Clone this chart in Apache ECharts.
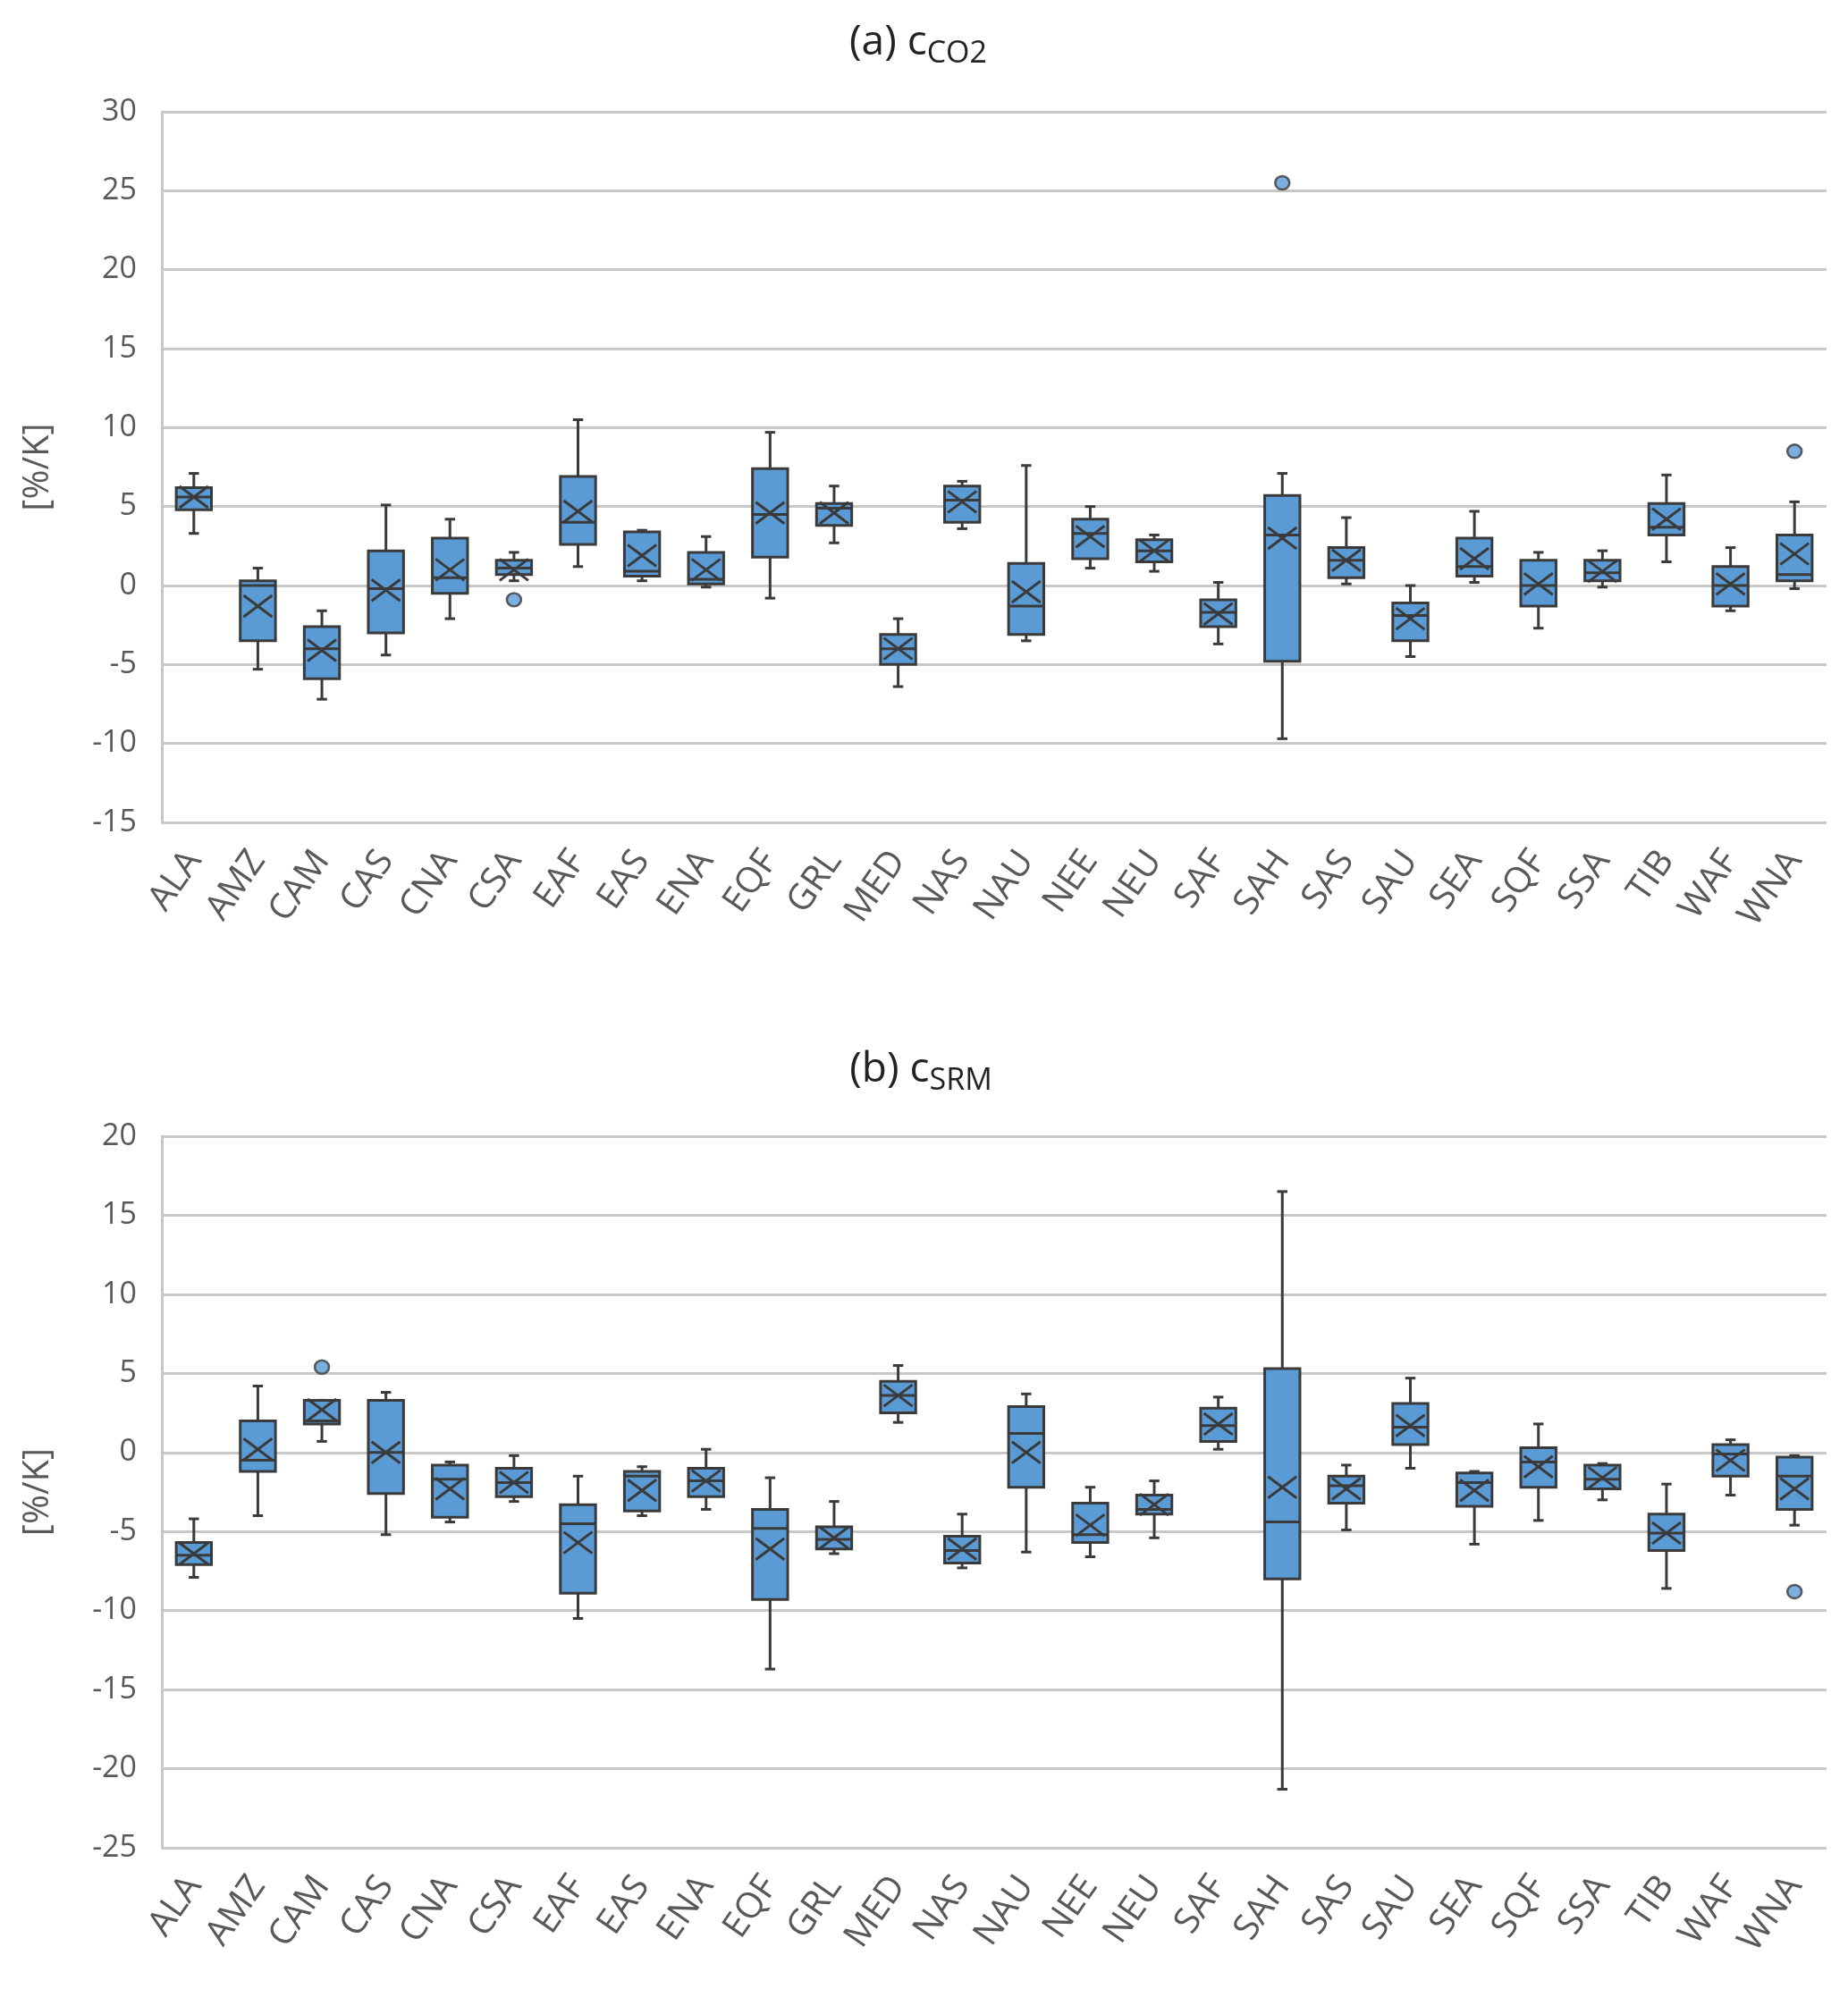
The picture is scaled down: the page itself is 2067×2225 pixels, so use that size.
<!DOCTYPE html>
<html>
<head>
<meta charset="utf-8">
<script src="https://cdn.jsdelivr.net/npm/echarts@6/dist/echarts.min.js"></script>
<style>
html,body{margin:0;padding:0;background:#fff;}
#c{width:2067px;height:2225px;}
</style>
</head>
<body>
<div id="c"></div>
<script>
const categories = ['ALA','AMZ','CAM','CAS','CNA','CSA','EAF','EAS','ENA','EQF','GRL','MED','NAS','NAU','NEE','NEU','SAF','SAH','SAS','SAU','SEA','SQF','SSA','TIB','WAF','WNA'];

// panel (a) cCO2 : [whiskerMin, Q1, median, Q3, whiskerMax, mean]
const co2Box = [
  [3.3, 4.8, 5.6, 6.2, 7.1, 5.6],
  [-5.3, -3.5, 0.0, 0.3, 1.1, -1.3],
  [-7.2, -5.9, -4.0, -2.6, -1.6, -4.1],
  [-4.4, -3.0, -0.2, 2.2, 5.1, -0.3],
  [-2.1, -0.5, 0.5, 3.0, 4.2, 1.0],
  [0.3, 0.7, 1.1, 1.6, 2.1, 1.0],
  [1.2, 2.6, 4.0, 6.9, 10.5, 4.7],
  [0.3, 0.6, 0.9, 3.4, 3.5, 1.9],
  [-0.1, 0.1, 0.4, 2.1, 3.1, 1.0],
  [-0.8, 1.8, 4.5, 7.4, 9.7, 4.6],
  [2.7, 3.8, 4.9, 5.2, 6.3, 4.6],
  [-6.4, -5.0, -4.0, -3.1, -2.1, -4.0],
  [3.6, 4.0, 5.4, 6.3, 6.6, 5.3],
  [-3.5, -3.1, -1.3, 1.4, 7.6, -0.4],
  [1.1, 1.7, 3.3, 4.2, 5.0, 3.1],
  [0.9, 1.5, 2.2, 2.9, 3.2, 2.2],
  [-3.7, -2.6, -1.7, -0.9, 0.2, -1.8],
  [-9.7, -4.8, 3.2, 5.7, 7.1, 3.0],
  [0.1, 0.5, 1.6, 2.4, 4.3, 1.6],
  [-4.5, -3.5, -1.9, -1.1, 0.0, -2.1],
  [0.2, 0.6, 1.2, 3.0, 4.7, 1.7],
  [-2.7, -1.3, 0.0, 1.6, 2.1, 0.1],
  [-0.1, 0.3, 0.8, 1.6, 2.2, 0.9],
  [1.5, 3.2, 3.7, 5.2, 7.0, 4.2],
  [-1.6, -1.3, 0.0, 1.2, 2.4, 0.1],
  [-0.2, 0.3, 0.7, 3.2, 5.3, 2.0]
];
const co2Outliers = [['CSA', -0.9], ['SAH', 25.5], ['WNA', 8.5]];

// panel (b) cSRM
const srmBox = [
  [-7.9, -7.1, -6.5, -5.7, -4.2, -6.4],
  [-4.0, -1.2, -0.5, 2.0, 4.2, 0.2],
  [0.7, 1.8, 2.0, 3.3, 3.3, 2.7],
  [-5.2, -2.6, 0.0, 3.3, 3.8, 0.0],
  [-4.4, -4.1, -1.7, -0.8, -0.6, -2.3],
  [-3.1, -2.8, -1.9, -1.0, -0.2, -1.9],
  [-10.5, -8.9, -4.5, -3.3, -1.5, -5.7],
  [-4.0, -3.7, -1.5, -1.2, -0.9, -2.4],
  [-3.6, -2.8, -1.8, -1.0, 0.2, -1.8],
  [-13.7, -9.3, -4.8, -3.6, -1.6, -6.1],
  [-6.4, -6.1, -5.5, -4.7, -3.1, -5.4],
  [1.9, 2.5, 3.6, 4.5, 5.5, 3.6],
  [-7.3, -7.0, -6.2, -5.3, -3.9, -6.1],
  [-6.3, -2.2, 1.2, 2.9, 3.7, 0.0],
  [-6.6, -5.7, -5.2, -3.2, -2.2, -4.6],
  [-5.4, -3.9, -3.6, -2.7, -1.8, -3.3],
  [0.2, 0.7, 1.7, 2.8, 3.5, 1.8],
  [-21.3, -8.0, -4.4, 5.3, 16.5, -2.2],
  [-4.9, -3.2, -2.1, -1.5, -0.8, -2.3],
  [-1.0, 0.5, 1.6, 3.1, 4.7, 1.7],
  [-5.8, -3.4, -1.9, -1.3, -1.2, -2.4],
  [-4.3, -2.2, -0.6, 0.3, 1.8, -0.9],
  [-3.0, -2.3, -1.7, -0.8, -0.7, -1.6],
  [-8.6, -6.2, -5.1, -3.9, -2.0, -5.1],
  [-2.7, -1.5, -0.1, 0.5, 0.8, -0.5],
  [-4.6, -3.6, -1.5, -0.3, -0.2, -2.3]
];
const srmOutliers = [['CAM', 5.4], ['WNA', -8.8]];

const yTicksA = {min: -15, max: 30, interval: 5};
const yTicksB = {min: -25, max: 20, interval: 5};

const FILL = '#5b9bd5';
const EDGE = '#3a3a3a';
const GRIDC = '#c8c8c8';
const TXT = '#595959';
const FONT = 'Open Sans';
const LW = 3;

function boxRender(params, api) {
  const x = api.value(0);
  const pMin = api.coord([x, api.value(1)]);
  const pQ1 = api.coord([x, api.value(2)]);
  const pMed = api.coord([x, api.value(3)]);
  const pQ3 = api.coord([x, api.value(4)]);
  const pMax = api.coord([x, api.value(5)]);
  const pMean = api.coord([x, api.value(6)]);
  const band = api.size([1, 0])[0];
  const hw = band * 0.275;
  const cw = band * 0.16;
  const cx = pMed[0];
  const ls = {stroke: EDGE, lineWidth: LW};
  const mx = Math.min(hw * 0.85, 16), my = 12;
  return {
    type: 'group',
    children: [
      {type: 'line', shape: {x1: cx, y1: pMax[1], x2: cx, y2: pQ3[1]}, style: ls},
      {type: 'line', shape: {x1: cx, y1: pQ1[1], x2: cx, y2: pMin[1]}, style: ls},
      {type: 'line', shape: {x1: cx - cw / 2, y1: pMax[1], x2: cx + cw / 2, y2: pMax[1]}, style: ls},
      {type: 'line', shape: {x1: cx - cw / 2, y1: pMin[1], x2: cx + cw / 2, y2: pMin[1]}, style: ls},
      {type: 'rect', shape: {x: cx - hw, y: pQ3[1], width: hw * 2, height: pQ1[1] - pQ3[1]},
        style: {fill: FILL, stroke: EDGE, lineWidth: LW}},
      {type: 'line', shape: {x1: cx - hw, y1: pMed[1], x2: cx + hw, y2: pMed[1]}, style: ls},
      {type: 'line', shape: {x1: cx - mx, y1: pMean[1] - my, x2: cx + mx, y2: pMean[1] + my}, style: ls},
      {type: 'line', shape: {x1: cx - mx, y1: pMean[1] + my, x2: cx + mx, y2: pMean[1] - my}, style: ls}
    ]
  };
}

function boxData(arr) {
  return arr.map((d, i) => [i, d[0], d[1], d[2], d[3], d[4], d[5]]);
}

function xAxisCfg(gi) {
  return {
    type: 'category', gridIndex: gi, data: categories, boundaryGap: true,
    axisLine: {show: false}, axisTick: {show: false},
    axisLabel: {rotate: 55, margin: 36, fontSize: 40, color: TXT, fontFamily: FONT, interval: 0}
  };
}
function yAxisCfg(gi, t) {
  return {
    type: 'value', gridIndex: gi, min: t.min, max: t.max, interval: t.interval,
    name: '[%/K]', nameLocation: 'middle', nameGap: 118, nameRotate: 90,
    nameTextStyle: {fontSize: 40, color: TXT, fontFamily: FONT},
    axisLine: {show: true, lineStyle: {color: GRIDC, width: 3}},
    axisTick: {show: false},
    axisLabel: {fontSize: 34, color: TXT, fontFamily: FONT, margin: 28},
    splitLine: {show: true, lineStyle: {color: GRIDC, width: 3}}
  };
}

const titleRich = {
  m: {fontSize: 46, color: '#222', fontFamily: FONT, fontWeight: 'normal', lineHeight: 58},
  s: {fontSize: 34, color: '#222', fontFamily: FONT, fontWeight: 'normal', lineHeight: 58, padding: [24, 0, 0, 0]}
};

const chart = echarts.init(document.getElementById('c'), null, {renderer: 'canvas'});
chart.setOption({
  backgroundColor: '#fff',
  animation: false,
  title: [
    {text: '{m|(a) c}{s|CO2}', left: 1022, top: 14, textAlign: 'center', textStyle: {fontWeight: 'normal', rich: titleRich}},
    {text: '{m|(b) c}{s|SRM}', left: 1025, top: 1163, textAlign: 'center', textStyle: {fontWeight: 'normal', rich: titleRich}}
  ],
  grid: [
    {left: 181, width: 1862, top: 125, height: 795},
    {left: 181, width: 1862, top: 1271, height: 796}
  ],
  xAxis: [xAxisCfg(0), xAxisCfg(1)],
  yAxis: [yAxisCfg(0, yTicksA), yAxisCfg(1, yTicksB)],
  series: [
    {type: 'custom', xAxisIndex: 0, yAxisIndex: 0, renderItem: boxRender, data: boxData(co2Box), encode: {x: 0, y: [1, 5]}},
    {type: 'custom', xAxisIndex: 1, yAxisIndex: 1, renderItem: boxRender, data: boxData(srmBox), encode: {x: 0, y: [1, 5]}},
    {type: 'scatter', xAxisIndex: 0, yAxisIndex: 0, data: co2Outliers, symbol: 'circle', symbolSize: [16, 15],
      itemStyle: {color: FILL, borderColor: EDGE, borderWidth: 2.5}},
    {type: 'scatter', xAxisIndex: 1, yAxisIndex: 1, data: srmOutliers, symbol: 'circle', symbolSize: [16, 15],
      itemStyle: {color: FILL, borderColor: EDGE, borderWidth: 2.5}}
  ]
});
</script>
</body>
</html>
